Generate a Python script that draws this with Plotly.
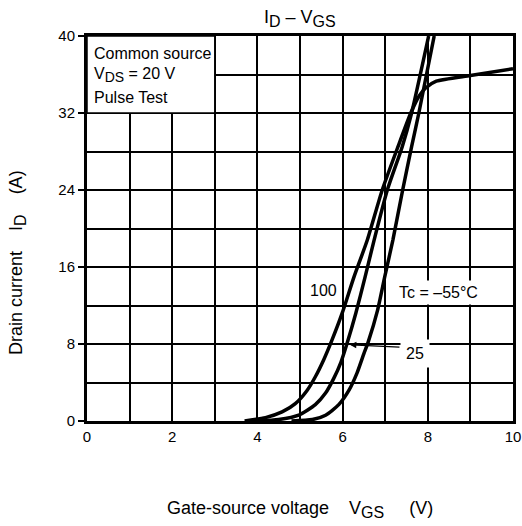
import plotly.graph_objects as go

# Transfer characteristics: drain current vs gate-source voltage at three case temperatures
vgs_100 = [3.7, 4.19, 4.58, 4.89, 5.17, 5.36, 5.56, 5.75, 5.99, 6.27, 6.58, 6.93, 7.3, 7.6, 7.8, 7.95, 8.2, 9.0, 10.0]
id_100 = [0.0, 0.35, 0.94, 1.8, 3.2, 4.6, 6.4, 8.4, 11.2, 15.0, 18.8, 24.0, 28.5, 32.0, 33.8, 34.6, 35.3, 35.9, 36.6]

vgs_25 = [4.0, 4.5, 4.97, 5.36, 5.6, 5.79, 5.96, 6.1, 6.31, 6.53, 6.74, 7.05, 7.4, 7.62, 8.02]
id_25 = [0.0, 0.15, 0.6, 1.7, 2.9, 4.4, 6.1, 8.0, 11.2, 15.0, 18.8, 24.0, 28.5, 32.0, 40.0]

vgs_m55 = [4.8, 5.29, 5.6, 5.91, 6.15, 6.34, 6.5, 6.6, 6.82, 6.99, 7.18, 7.41, 7.62, 7.79, 8.15]
id_m55 = [0.0, 0.15, 0.6, 1.7, 3.2, 5.0, 7.0, 8.2, 11.5, 15.0, 18.8, 24.0, 28.5, 32.0, 40.0]

x_ticks = [0, 2, 4, 6, 8, 10]
y_ticks = [0, 8, 16, 24, 32, 40]

FONT = "Arial, Liberation Sans, sans-serif"
NB = "\u00a0"


def sub(s, size):
    return f"<sub><span style='font-size:{size}px'>{s}</span></sub>"


fig = go.Figure()
for xs, ys in [(vgs_100, id_100), (vgs_25, id_25), (vgs_m55, id_m55)]:
    fig.add_trace(go.Scatter(
        x=xs, y=ys, mode="lines",
        line=dict(color="black", width=3.5, shape="spline", smoothing=0.6),
        showlegend=False, hoverinfo="skip",
    ))

# Conditions box in the upper-left corner
fig.add_shape(type="rect", x0=0, x1=3, y0=32, y1=40, xref="x", yref="y",
              fillcolor="white", line=dict(color="black", width=1.5), layer="between")

annotations = [
    dict(x=0.11, y=38.23, text="Common source", xanchor="left", yanchor="middle",
         showarrow=False, font=dict(size=16)),
    dict(x=0.11, y=35.95, text="V" + sub("DS", 14) + " = 20 V", xanchor="left", yanchor="middle",
         showarrow=False, font=dict(size=16)),
    dict(x=0.11, y=33.66, text="Pulse Test", xanchor="left", yanchor="middle",
         showarrow=False, font=dict(size=16)),
    # curve labels
    dict(x=5.55, y=13.6, text="100", showarrow=False, font=dict(size=16)),
    dict(x=8.25, y=13.4, text="Tc = \u201355\u00b0C", showarrow=False, font=dict(size=16),
         bgcolor="white", borderpad=3),
    dict(x=6.17, y=7.92, ax=7.37, ay=7.66, axref="x", ayref="y", text="",
         showarrow=True, arrowhead=2, arrowsize=1, arrowwidth=1.3, arrowcolor="black"),
    dict(x=7.71, y=7.0, text="25", showarrow=False, font=dict(size=16),
         bgcolor="white", borderpad=5),
    # titles
    dict(x=0.5, y=1.045, xref="paper", yref="paper",
         text="I" + sub("D", 16) + " \u2013 V" + sub("GS", 16),
         showarrow=False, font=dict(size=18), yanchor="middle"),
    dict(x=0.5, y=-0.231, xref="paper", yref="paper",
         text="Gate-source voltage" + NB * 4 + "V" + sub("GS", 16) + NB * 5 + "(V)",
         showarrow=False, font=dict(size=18), yanchor="middle"),
    dict(x=-0.162, y=0.413, xref="paper", yref="paper", textangle=-90,
         text="Drain current" + NB * 4 + "I" + sub("D", 16) + NB * 4 + "(A)",
         showarrow=False, font=dict(size=18), xanchor="center", yanchor="middle"),
]
fig.update_layout(annotations=annotations)

fig.update_layout(
    width=522, height=526,
    margin=dict(l=87, r=9, t=36, b=105, autoexpand=False),
    paper_bgcolor="white", plot_bgcolor="white",
    font=dict(family=FONT, color="black", size=15),
    xaxis=dict(
        range=[0, 10], tickvals=x_ticks, ticktext=[str(v) for v in x_ticks],
        showgrid=True, gridcolor="black", gridwidth=1.5,
        minor=dict(dtick=1, showgrid=True, gridcolor="black", gridwidth=1.5),
        showline=True, linecolor="black", linewidth=3, mirror=True,
        ticks="", zeroline=False, tickfont=dict(size=15), fixedrange=True,
        automargin=False,
    ),
    yaxis=dict(
        range=[0, 40], tickvals=y_ticks, ticktext=[str(v) for v in y_ticks],
        showgrid=True, gridcolor="black", gridwidth=1.5,
        minor=dict(dtick=4, showgrid=True, gridcolor="black", gridwidth=1.5),
        showline=True, linecolor="black", linewidth=3, mirror=True,
        ticks="outside", ticklen=6, tickwidth=1.5, tickcolor="black",
        zeroline=False, tickfont=dict(size=15), fixedrange=True,
        automargin=False,
    ),
)

fig.write_html("out.html")
